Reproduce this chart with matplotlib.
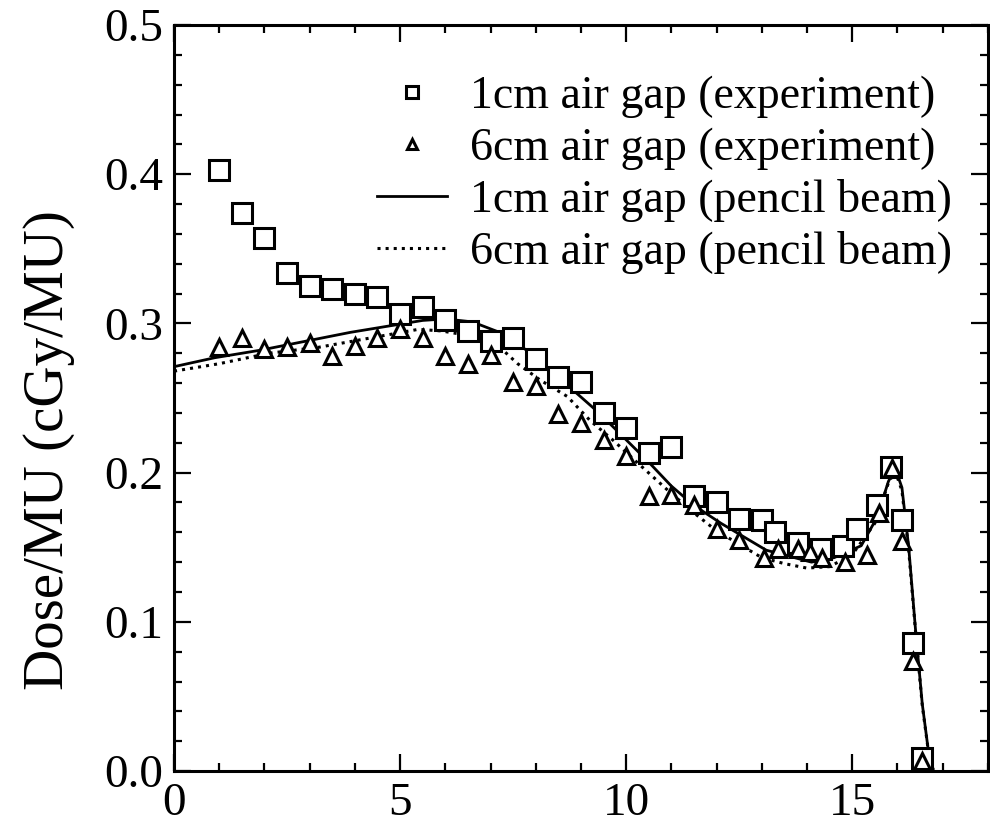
import numpy as np
import matplotlib
matplotlib.use('Agg')
import matplotlib.pyplot as plt
from matplotlib.ticker import MultipleLocator

plt.rcParams['font.family'] = ['Liberation Serif', 'DejaVu Serif']

# measured depth dose, 1 cm air gap
x_1cm = [1.0, 1.5, 2.0, 2.5, 3.0, 3.5, 4.0, 4.5, 5.0, 5.5, 6.0, 6.5, 7.0, 7.5,
         8.0, 8.5, 9.0, 9.5, 10.0, 10.5, 11.0, 11.5, 12.0, 12.5, 13.0, 13.3,
         13.8, 14.3, 14.8, 15.1, 15.55, 15.85, 16.1, 16.35, 16.55]
y_1cm = [0.403, 0.374, 0.357, 0.334, 0.325, 0.323, 0.320, 0.318, 0.306, 0.311,
         0.302, 0.295, 0.288, 0.290, 0.276, 0.264, 0.261, 0.240, 0.230, 0.213,
         0.217, 0.184, 0.180, 0.169, 0.168, 0.160, 0.153, 0.149, 0.151, 0.162,
         0.178, 0.204, 0.168, 0.086, 0.009]

# measured depth dose, 6 cm air gap
x_6cm = [1.0, 1.5, 2.0, 2.5, 3.0, 3.5, 4.0, 4.5, 5.0, 5.5, 6.0, 6.5, 7.0, 7.5,
         8.0, 8.5, 9.0, 9.5, 10.0, 10.5, 11.0, 11.5, 12.0, 12.5, 13.05, 13.35,
         13.8, 14.07, 14.33, 14.85, 15.33, 15.6, 15.87, 16.1, 16.35, 16.55]
y_6cm = [0.284, 0.290, 0.283, 0.284, 0.287, 0.278, 0.285, 0.290, 0.296, 0.290,
         0.278, 0.273, 0.279, 0.261, 0.258, 0.239, 0.233, 0.222, 0.211, 0.184,
         0.185, 0.178, 0.162, 0.155, 0.143, 0.149, 0.149, 0.147, 0.143, 0.140,
         0.145, 0.173, 0.203, 0.154, 0.074, 0.007]

# pencil beam calculation, 1 cm air gap
xc_1cm = [0.0, 0.9, 1.9, 2.9, 3.9, 4.9, 5.5, 6.0, 6.6, 7.2, 7.8, 8.3, 8.8, 9.4,
          10.0, 10.5, 11.0, 11.5, 12.1, 12.6, 13.1, 13.6, 14.1, 14.6, 15.2,
          15.55, 15.8, 15.95, 16.1, 16.25, 16.4, 16.55, 16.7, 16.8]
yc_1cm = [0.271, 0.277, 0.282, 0.288, 0.294, 0.299, 0.302, 0.303, 0.301, 0.294,
          0.282, 0.269, 0.256, 0.240, 0.222, 0.207, 0.191, 0.178, 0.166, 0.157,
          0.148, 0.144, 0.140, 0.143, 0.151, 0.170, 0.194, 0.203, 0.190, 0.150,
          0.095, 0.045, 0.010, 0.0]

# pencil beam calculation, 6 cm air gap
xc_6cm = [0.0, 1.0, 2.1, 3.2, 4.3, 5.4, 5.9, 6.5, 7.1, 7.6, 8.1, 8.7, 9.2, 9.7,
          10.2, 10.6, 11.0, 11.5, 12.0, 12.5, 13.0, 13.5, 14.0, 14.5, 15.0,
          15.5, 15.8, 15.95, 16.1, 16.25, 16.4, 16.55, 16.7, 16.8]
yc_6cm = [0.268, 0.273, 0.280, 0.284, 0.290, 0.296, 0.295, 0.292, 0.287, 0.273,
          0.262, 0.251, 0.235, 0.222, 0.208, 0.197, 0.186, 0.173, 0.161, 0.152,
          0.143, 0.139, 0.136, 0.137, 0.145, 0.166, 0.193, 0.201, 0.188, 0.148,
          0.094, 0.044, 0.010, 0.0]

fig = plt.figure(figsize=(9.9, 8.33), dpi=100)
ax = fig.add_axes([0.1758, 0.0744, 0.822, 0.8956])

ax.plot(xc_1cm, yc_1cm, '-', color='black', lw=2.0,
        label='1cm air gap (pencil beam)')
ax.plot(xc_6cm, yc_6cm, ':', color='black', lw=2.2,
        label='6cm air gap (pencil beam)')
ax.plot(x_1cm, y_1cm, 's', ms=14, mfc='white', mec='black', mew=2.2,
        ls='none', label='1cm air gap (experiment)')
ax.plot(x_6cm, y_6cm, '^', ms=12, mfc='white', mec='black', mew=2.2,
        ls='none', label='6cm air gap (experiment)')

ax.set_xlim(0, 18)
ax.set_ylim(0, 0.5)
ax.xaxis.set_major_locator(MultipleLocator(5))
ax.xaxis.set_minor_locator(MultipleLocator(1))
ax.yaxis.set_major_locator(MultipleLocator(0.1))
ax.yaxis.set_minor_locator(MultipleLocator(0.02))
ax.xaxis.set_major_formatter(matplotlib.ticker.FormatStrFormatter('%d'))
ax.yaxis.set_major_formatter(matplotlib.ticker.FormatStrFormatter('%.1f'))
ax.tick_params(which='both', direction='in', top=True, right=True,
               width=1.6, labelsize=34, color='black')
ax.tick_params(which='major', length=12, pad=8)
ax.tick_params(which='minor', length=6)
for s in ax.spines.values():
    s.set_linewidth(2.2)

ax.set_ylabel('Dose/MU (cGy/MU)', fontsize=41)
ax.yaxis.set_label_coords(-0.122, 0.43)

h, l = ax.get_legend_handles_labels()
order = [2, 3, 0, 1]
leg = ax.legend([h[i] for i in order], [l[i] for i in order],
                loc='upper left', bbox_to_anchor=(0.249, 0.932),
                borderaxespad=0, borderpad=0,
                frameon=False, fontsize=33, handlelength=1.53,
                handletextpad=0.5, labelspacing=0.2, markerscale=0.65)

fig.savefig('out.png', dpi=100)
